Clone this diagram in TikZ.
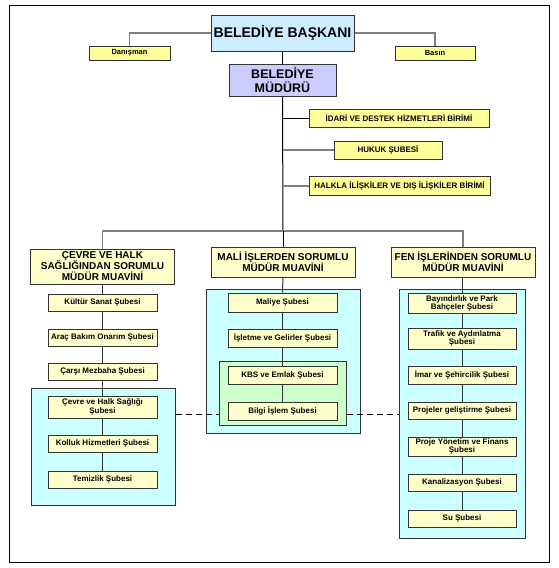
\documentclass[tikz,border=0pt]{standalone}
\usepackage{fontspec}
\setmainfont{Liberation Sans}
\definecolor{bluefill}{HTML}{CCECFF}
\definecolor{lavfill}{HTML}{CCCCFF}
\definecolor{yelfill}{HTML}{FFFF99}
\definecolor{creamfill}{HTML}{FFFFCC}
\definecolor{cyanfill}{HTML}{CCFFFF}
\definecolor{greenfill}{HTML}{CCFFCC}
\definecolor{linegray}{HTML}{7F7F7F}
\definecolor{boxline}{HTML}{333333}
\tikzset{
  box/.style={draw=boxline, line width=1pt, inner sep=0pt, align=center, font=\bfseries\fontsize{8}{9}\selectfont},
  topbox/.style={box, fill=yelfill},
  subbox/.style={box, fill=creamfill, minimum width=109pt},
  mmbox/.style={box, fill=creamfill, minimum width=144pt, font=\bfseries\fontsize{10}{11}\selectfont},
  grp/.style={draw=boxline, line width=1pt, inner sep=0pt},
  conn/.style={draw=linegray, line width=1.4pt},
  trunk/.style={draw=black, line width=1pt},
  colline/.style={draw=black!80, line width=1pt},
  dashline/.style={draw=black, line width=1pt, dash pattern=on 6pt off 4pt}
}
\begin{document}
\begin{tikzpicture}[x=1pt,y=-1pt]
\useasboundingbox (0,0) rectangle (559,568);
\fill[white] (0,0) rectangle (559,568);
\draw[black, line width=1pt] (9,5) rectangle (549,562);

% top level
\node[box, fill=bluefill, minimum width=143pt, minimum height=36pt, font=\bfseries\fontsize{14}{16}\selectfont] (baskan) at (282.5,33) {BELEDİYE BAŞKANI};
\node[topbox, minimum width=81pt, minimum height=14pt, font=\bfseries\fontsize{7.5}{9}\selectfont] (danisman) at (129.5,53) {Danışman};
\node[topbox, minimum width=80pt, minimum height=14pt, font=\bfseries\fontsize{7.5}{9}\selectfont] (basin) at (435,53) {Basın};
\node[box, fill=lavfill, minimum width=107pt, minimum height=32pt, font=\bfseries\fontsize{12.5}{13.5}\selectfont] (mudur) at (282.5,80) {BELEDİYE\\MÜDÜRÜ};
\node[topbox, minimum width=180pt, minimum height=18pt] (idari) at (399,118) {İDARİ VE DESTEK HİZMETLERİ BİRİMİ};
\node[topbox, minimum width=108pt, minimum height=18pt] (hukuk) at (388,150) {HUKUK ŞUBESİ};
\node[topbox, minimum width=181pt, minimum height=19pt] (halkla) at (399.5,186) {HALKLA İLİŞKİLER VE DIŞ İLİŞKİLER BİRİMİ};

\draw[conn] (baskan.west) -| (danisman.north);
\draw[conn] (baskan.east) -| (basin.north);
\draw[trunk] (baskan.south) -- (mudur.north);
\coordinate (bar) at (283,231);
\draw[trunk] (mudur.south) -- (bar);
\draw[trunk] (idari.west) -- (idari.west -| mudur.south);
\draw[conn] (hukuk.west) -- (hukuk.west -| mudur.south);
\draw[conn] (halkla.west) -- (halkla.west -| mudur.south);

% groups
\node[grp, fill=cyanfill, minimum width=144pt, minimum height=117pt] (cevreG) at (103,446.5) {};
\node[grp, fill=cyanfill, minimum width=154pt, minimum height=144pt] (maliG) at (283,361) {};
\node[grp, fill=cyanfill, minimum width=126pt, minimum height=249pt] (fenG) at (462,413.5) {};
\coordinate (dashy) at (0,414);
\node[grp, fill=greenfill, minimum width=127pt, minimum height=64pt] (greenG) at (282.5,393) {};
\draw[dashline] (cevreG.east |- dashy) -- (greenG.west |- dashy);
\draw[dashline] (greenG.east |- dashy) -- (fenG.west |- dashy);

% middle managers
\node[mmbox, minimum height=35pt] (cevreMM) at (102.5,266.5) {ÇEVRE VE HALK\\SAĞLIĞINDAN SORUMLU\\MÜDÜR MUAVİNİ};
\node[mmbox, minimum height=30pt] (maliMM) at (283,262) {MALİ İŞLERDEN SORUMLU\\MÜDÜR MUAVİNİ};
\node[mmbox, minimum height=30pt] (fenMM) at (463,262) {FEN İŞLERİNDEN SORUMLU\\MÜDÜR MUAVİNİ};

\draw[conn] (cevreMM.north) |- (bar) -| (fenMM.north);
\draw[trunk] (bar) -- (maliMM.north);

% sub-boxes left column
\node[subbox, minimum height=17pt] (kultur) at (102.5,302.5) {Kültür Sanat Şubesi};
\node[subbox, minimum height=17pt] (arac) at (102.5,337.5) {Araç Bakım Onarım Şubesi};
\node[subbox, minimum height=17pt] (carsi) at (102.5,371.5) {Çarşı Mezbaha Şubesi};
\node[subbox, minimum height=22pt] (cevreSH) at (102.5,407) {Çevre ve Halk Sağlığı\\Şubesi};
\node[subbox, minimum height=17pt] (kolluk) at (102.5,443.5) {Kolluk Hizmetleri Şubesi};
\node[subbox, minimum height=17pt] (temizlik) at (102.5,479.5) {Temizlik Şubesi};

% middle column
\node[subbox, minimum height=19pt] (maliye) at (282.5,302.5) {Maliye Şubesi};
\node[subbox, minimum height=18pt] (isletme) at (282.5,338) {İşletme ve Gelirler Şubesi};
\node[subbox, minimum height=18pt] (kbs) at (282.5,375) {KBS ve Emlak Şubesi};
\node[subbox, minimum height=18pt] (bilgi) at (282.5,411) {Bilgi İşlem Şubesi};

% right column
\node[subbox, minimum width=108pt, minimum height=20pt, font=\bfseries\fontsize{8}{8.6}\selectfont] (bay) at (462,303.5) {Bayındırlık ve Park\\Bahçeler Şubesi};
\node[subbox, minimum width=108pt, minimum height=21pt, font=\bfseries\fontsize{8}{8.6}\selectfont] (trafik) at (462,338.5) {Trafik ve Aydınlatma\\Şubesi};
\node[subbox, minimum width=108pt, minimum height=18pt] (imar) at (462,375) {İmar ve Şehircilik Şubesi};
\node[subbox, minimum width=108pt, minimum height=17pt] (projeler) at (462,410.5) {Projeler geliştirme Şubesi};
\node[subbox, minimum width=108pt, minimum height=19pt, font=\bfseries\fontsize{8}{8.6}\selectfont] (projeyon) at (462,446.5) {Proje Yönetim ve Finans\\Şubesi};
\node[subbox, minimum width=108pt, minimum height=17pt] (kanal) at (462,482.5) {Kanalizasyon Şubesi};
\node[subbox, minimum width=108pt, minimum height=17pt] (su) at (462,518.5) {Su Şubesi};

% column connectors
\draw[colline] (cevreMM.south) -- (kultur.north);
\draw[colline] (kultur.south) -- (arac.north);
\draw[colline] (arac.south) -- (carsi.north);
\draw[colline] (carsi.south) -- (cevreSH.north);
\draw[colline] (cevreSH.south) -- (kolluk.north);
\draw[colline] (kolluk.south) -- (temizlik.north);
\draw[colline] (maliMM.south) -- (maliye.north);
\draw[colline] (maliye.south) -- (isletme.north);
\draw[colline] (isletme.south) -- (kbs.north);
\draw[colline] (kbs.south) -- (bilgi.north);
\draw[colline] (fenMM.south -| bay.north) -- (bay.north);
\draw[colline] (bay.south) -- (trafik.north);
\draw[colline] (trafik.south) -- (imar.north);
\draw[colline] (imar.south) -- (projeler.north);
\draw[colline] (projeler.south) -- (projeyon.north);
\draw[colline] (projeyon.south) -- (kanal.north);
\draw[colline] (kanal.south) -- (su.north);
\end{tikzpicture}
\end{document}
